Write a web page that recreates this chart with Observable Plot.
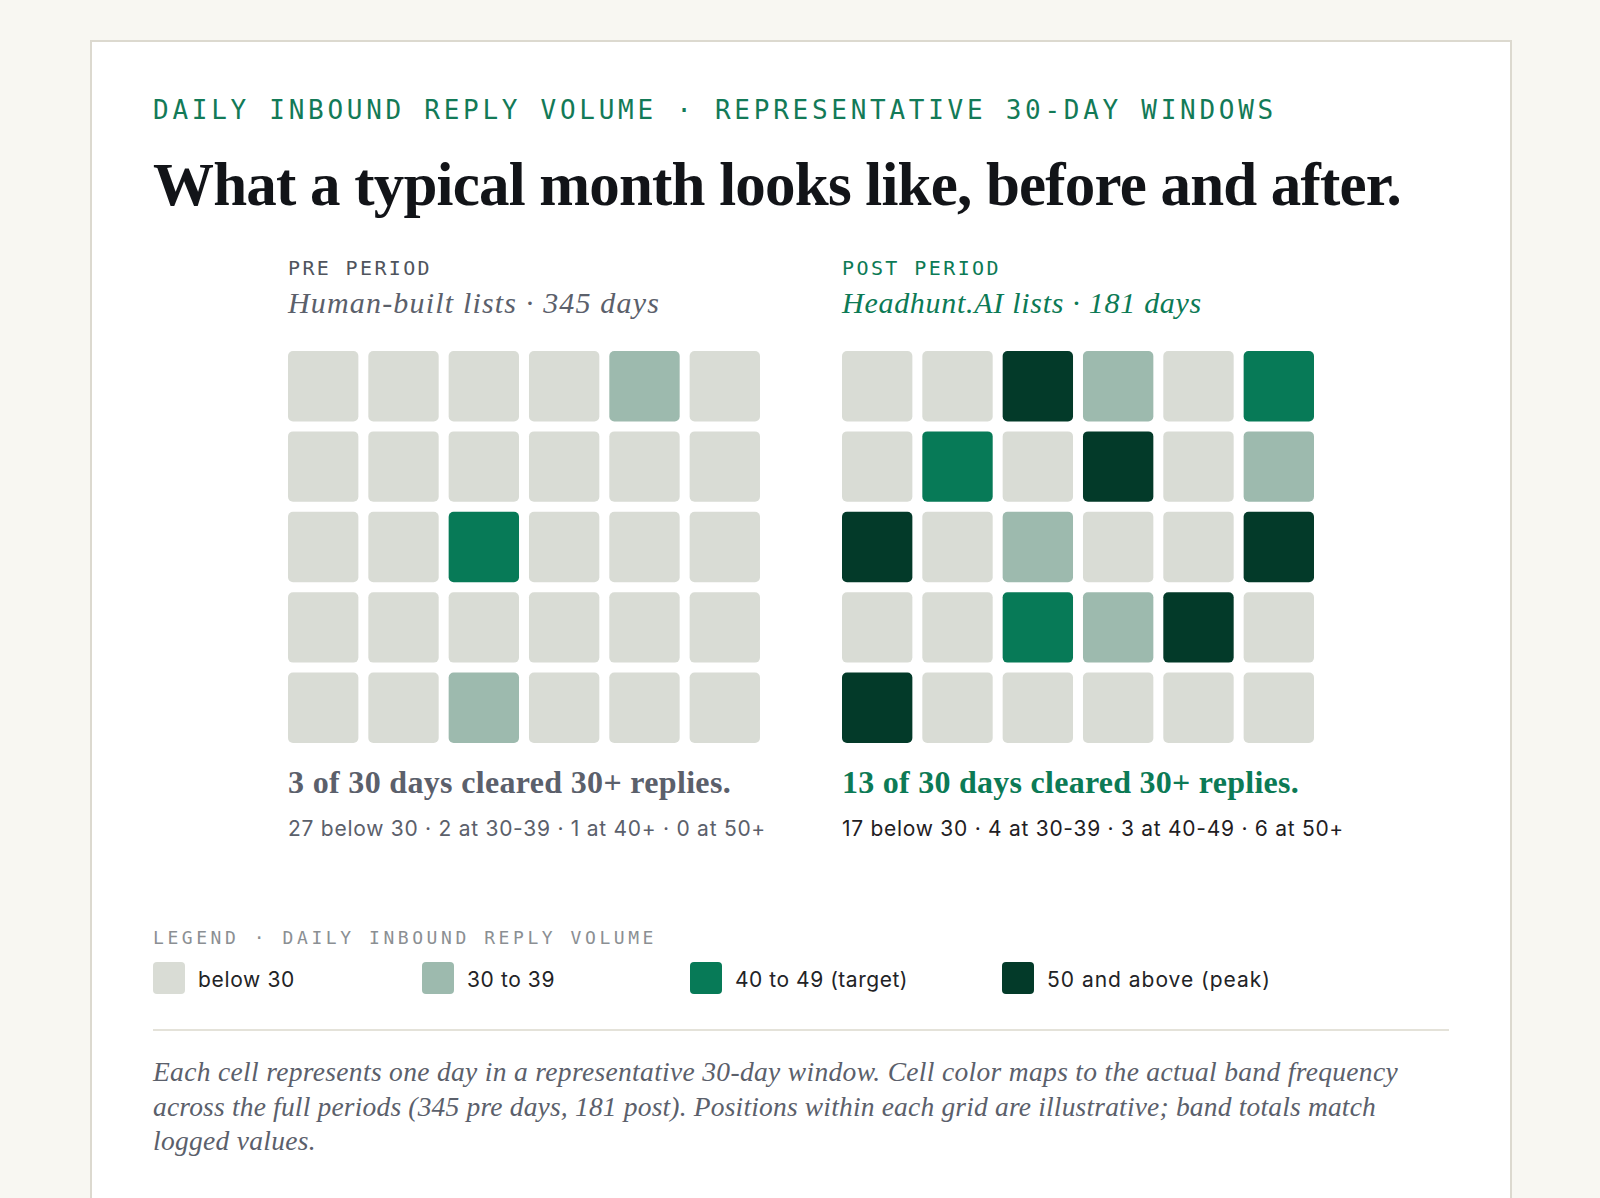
<!DOCTYPE html>
<html>
<head>
<meta charset="utf-8">
<script src="https://cdn.jsdelivr.net/npm/d3@7"></script>
<script src="https://cdn.jsdelivr.net/npm/@observablehq/plot@0.6"></script>
<style>
  html, body { margin: 0; padding: 0; }
  body { background: #f8f7f2; width: 1600px; height: 1198px; position: relative; overflow: hidden; }
  .card { position: absolute; left: 90px; top: 40px; width: 1422px; height: 1220px; box-sizing: border-box;
          border: 2px solid #dcd9cf; background: #ffffff; }
  .t { position: absolute; white-space: nowrap; line-height: 1; }
  .mono { font-family: "DejaVu Sans Mono", monospace; }
  .serif { font-family: "Liberation Serif", serif; }
  .sans { font-family: Inter, sans-serif; }
  .grid { position: absolute; top: 351px; }
  .grid svg { display: block; }
  .sw { position: absolute; top: 962px; width: 32px; height: 32px; border-radius: 4px; }
  .rule { position: absolute; left: 153px; top: 1029px; width: 1296px; height: 2px; background: #e4e2d9; }
</style>
</head>
<body>
<div class="card"></div>
<div id="root"></div>
<script>
// ---------- data ----------
const cols = [1, 2, 3, 4, 5, 6];
const rows = [1, 2, 3, 4, 5];
const bands = ["below 30", "30 to 39", "40 to 49 (target)", "50 and above (peak)"];
const bandColors = ["#d9dcd5", "#9dbaae", "#077a57", "#033a29"];
// band index per day, row by row (6 columns x 5 rows)
const preGrid = [
  0, 0, 0, 0, 1, 0,
  0, 0, 0, 0, 0, 0,
  0, 0, 2, 0, 0, 0,
  0, 0, 0, 0, 0, 0,
  0, 0, 1, 0, 0, 0
];
const postGrid = [
  0, 0, 3, 1, 0, 2,
  0, 2, 0, 3, 0, 1,
  3, 0, 1, 0, 0, 3,
  0, 0, 2, 1, 3, 0,
  3, 0, 0, 0, 0, 0
];
const eyebrow = "DAILY INBOUND REPLY VOLUME · REPRESENTATIVE 30-DAY WINDOWS";
const title = "What a typical month looks like, before and after.";
const periodLabels = ["PRE PERIOD", "POST PERIOD"];
const periodSubs = ["Human-built lists · 345 days", "Headhunt.AI lists · 181 days"];
const summaries = ["3 of 30 days cleared 30+ replies.", "13 of 30 days cleared 30+ replies."];
const details = ["27 below 30 · 2 at 30-39 · 1 at 40+ · 0 at 50+", "17 below 30 · 4 at 30-39 · 3 at 40-49 · 6 at 50+"];
const legendTitle = "LEGEND · DAILY INBOUND REPLY VOLUME";
const captionLines = [
  "Each cell represents one day in a representative 30-day window. Cell color maps to the actual band frequency",
  "across the full periods (345 pre days, 181 post). Positions within each grid are illustrative; band totals match",
  "logged values."
];

// ---------- layout helpers ----------
const root = document.getElementById("root");
const fits = [];
function text(str, cls, left, top, size, color, target, extra) {
  const el = document.createElement("div");
  el.className = "t " + cls;
  el.textContent = str;
  Object.assign(el.style, { left: left + "px", top: top + "px", fontSize: size + "px", color }, extra || {});
  root.appendChild(el);
  if (target) fits.push([el, target]);
  return el;
}

// header
text(eyebrow, "mono", 153, 97, 26, "#137a57", 1124);
text(title, "serif", 153, 154, 61, "#121418", 1248, { fontWeight: "700" });

// panels
const panelX = [288, 842];
const labelTargets = [144, 159];
const subTargets = [372, 360];
const sumTargets = [443, 457];
const detTargets = [478, 502];
const accent = ["#4f545d", "#0c7a55"];
const subColor = ["#5b606b", "#0c7a55"];
const detColor = ["#5b606b", "#1f2023"];

[preGrid, postGrid].forEach((grid, p) => {
  const x0 = panelX[p];
  text(periodLabels[p], "mono", x0, 258, 20, accent[p], labelTargets[p]);
  text(periodSubs[p], "serif", x0, 288, 30, subColor[p], subTargets[p], { fontStyle: "italic" });

  const data = grid.map((b, i) => ({ col: cols[i % 6], row: rows[Math.floor(i / 6)], band: bands[b] }));
  const chart = Plot.plot({
    width: 472,
    height: 392,
    margin: 0,
    style: { background: "transparent" },
    x: { type: "band", domain: cols, paddingInner: 0.124, paddingOuter: 0, round: false, axis: null },
    y: { type: "band", domain: rows, paddingInner: 0.124, paddingOuter: 0, round: false, axis: null },
    color: { type: "ordinal", domain: bands, range: bandColors },
    marks: [Plot.cell(data, { x: "col", y: "row", fill: "band", rx: 5 })]
  });
  const holder = document.createElement("div");
  holder.className = "grid";
  holder.style.left = x0 + "px";
  holder.appendChild(chart);
  root.appendChild(holder);

  text(summaries[p], "serif", x0, 766, 32, subColor[p], sumTargets[p], { fontWeight: "700" });
  text(details[p], "sans", x0, 818, 21, detColor[p], detTargets[p]);
});

// legend
text(legendTitle, "mono", 153, 929, 18, "#8b8f93", 504);
const legendX = [153, 422, 690, 1002];
const legendTargets = [97, 88, 173, 224];
bands.forEach((b, i) => {
  const sw = document.createElement("div");
  sw.className = "sw";
  sw.style.left = legendX[i] + "px";
  sw.style.background = bandColors[i];
  root.appendChild(sw);
  text(b, "sans", legendX[i] + 45, 969, 21, "#222326", legendTargets[i]);
});

const rule = document.createElement("div");
rule.className = "rule";
root.appendChild(rule);

// caption
const capTargets = [1245, 1223, 163];
captionLines.forEach((ln, i) => {
  text(ln, "serif", 153, 1058 + i * 34.5, 27.5, "#5b606b", capTargets[i], { fontStyle: "italic" });
});

// fit text widths to the reference via letter spacing
function doFit() {
  fits.forEach(([el, target]) => {
    el.style.letterSpacing = "0px";
    const w = el.getBoundingClientRect().width;
    const n = el.textContent.length;
    el.style.letterSpacing = ((target - w) / n) + "px";
  });
}
doFit();
if (document.fonts && document.fonts.ready) document.fonts.ready.then(doFit);
</script>
</body>
</html>
